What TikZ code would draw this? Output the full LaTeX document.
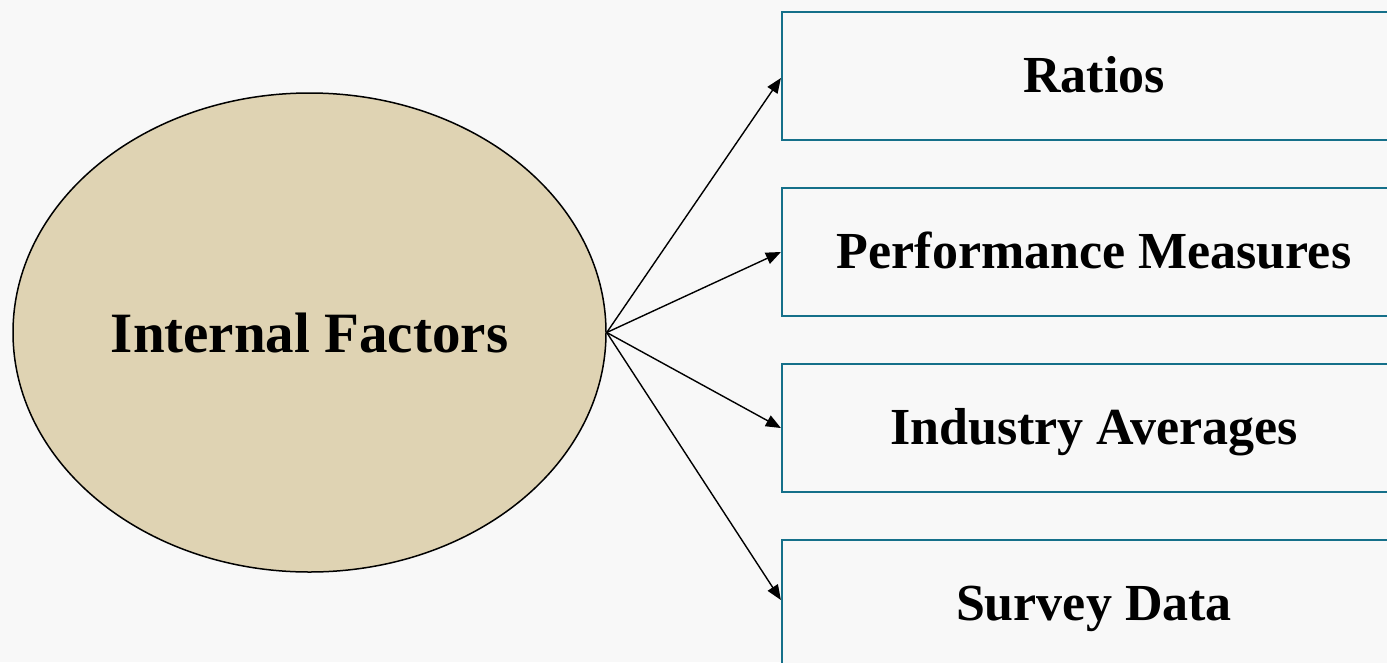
\documentclass[tikz,border=0pt]{standalone}
\usepackage{fontspec}
\setmainfont{Liberation Serif}
\usetikzlibrary{shapes.geometric,arrows.meta}
\definecolor{paper}{HTML}{F8F8F8}
\definecolor{sand}{HTML}{DFD3B3}
\definecolor{teal}{HTML}{15708A}
\begin{document}
\begin{tikzpicture}[x=1pt,y=-1pt,
  factor/.style={ellipse, draw=black, line width=1.5pt, fill=sand,
    minimum width=593pt, minimum height=479pt, inner sep=0pt,
    font=\bfseries\fontsize{57}{60}\selectfont},
  itembox/.style={rectangle, draw=teal, line width=2.2pt, fill=paper,
    minimum width=624pt, minimum height=128pt, inner sep=0pt,
    text height=34pt, text depth=2pt,
    font=\bfseries\fontsize{52}{56}\selectfont},
  link/.style={line width=1.4pt, -{Triangle[length=15pt,width=12pt]}}]
  \useasboundingbox (0,0) rectangle (1387,662);
  \clip (0,0) rectangle (1387,662);
  \fill[paper] (0,0) rectangle (1387,662);

  \node[factor] (f) at (309.5,332.5) {Internal Factors};

  \node[itembox] (b1) at (1094,76) {Ratios};
  \node[itembox] (b2) at (1094,252) {Performance Measures};
  \node[itembox] (b3) at (1094,428) {Industry Averages};
  \node[itembox] (b4) at (1094,604) {Survey Data};

  \draw[link] (f.east) -- ([yshift=-2pt]b1.west);
  \draw[link] (f.east) -- (b2.west);
  \draw[link] (f.east) -- (b3.west);
  \draw[link] (f.east) -- ([yshift=4pt]b4.west);
\end{tikzpicture}
\end{document}
